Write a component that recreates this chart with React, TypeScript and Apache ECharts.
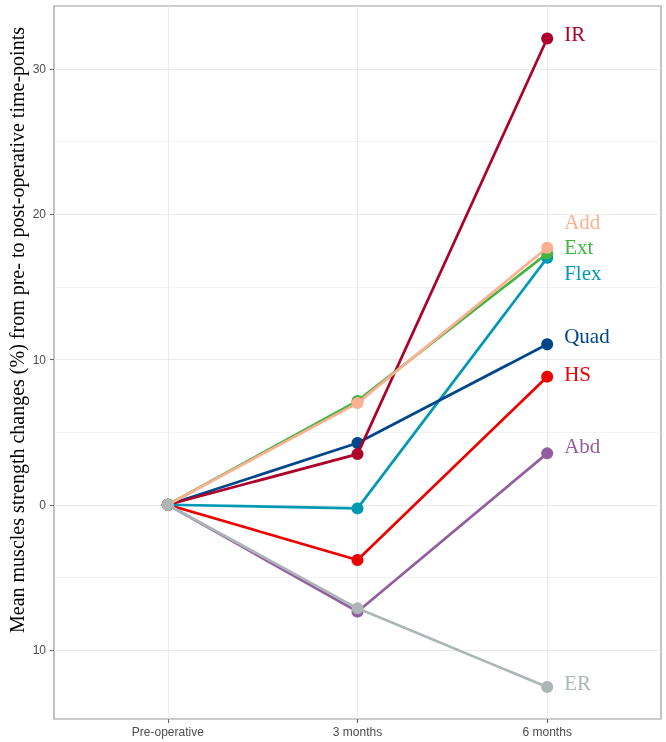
import React, { useEffect, useRef } from "react";
import * as echarts from "echarts";

const timePoints = ["Pre-operative", "3 months", "6 months"];

const IR = [0, 3.49, 32.1];
const Add = [0, 7.0, 17.7];
const Ext = [0, 7.15, 17.3];
const Flex = [0, -0.25, 17.0];
const Quad = [0, 4.25, 11.05];
const HS = [0, -3.8, 8.82];
const Abd = [0, -7.36, 3.54];
const ER = [0, -7.13, -12.55];

const yTicks = [-10, 0, 10, 20, 30];
const yMinor = [-5, 5, 15, 25];

// drawing order: later on top
const muscles = [
  { name: "Abd", values: Abd, color: "#925E9F", dy: -7 },
  { name: "HS", values: HS, color: "#ED0000", dy: -3 },
  { name: "Flex", values: Flex, color: "#0099B4", dy: 15 },
  { name: "Quad", values: Quad, color: "#00468B", dy: -8 },
  { name: "IR", values: IR, color: "#AD002A", dy: -5 },
  { name: "Ext", values: Ext, color: "#42B540", dy: -6 },
  { name: "Add", values: Add, color: "#FDAF91", dy: -26 },
  { name: "ER", values: ER, color: "#ADB6B6", dy: -4 },
];

export default function App() {
  const ref = useRef<HTMLDivElement>(null);
  useEffect(() => {
    if (!ref.current) return;
    const chart = echarts.init(ref.current, null, { renderer: "svg" });
    const gridColor = "#EBEBEB";
    const series: any[] = [
      {
        type: "line",
        data: [],
        silent: true,
        z: 0,
        markLine: {
          silent: true,
          z: 0,
          zlevel: 0,
          symbol: "none",
          animation: false,
          label: { show: false },
          emphasis: { disabled: true },
          data: [
            ...yMinor.map((v) => ({ yAxis: v, lineStyle: { color: gridColor, width: 0.6, type: "solid" } })),
            ...yTicks.map((v) => ({ yAxis: v, lineStyle: { color: gridColor, width: 1.2, type: "solid" } })),
            ...timePoints.map((_, i) => ({ xAxis: i, lineStyle: { color: gridColor, width: 1.2, type: "solid" } })),
          ],
        },
      },
    ];
    muscles.forEach((m, idx) => {
      series.push({
        name: m.name,
        type: "line",
        z: 10 + idx,
        data: m.values.map((v, i) => {
          const pt: any = { value: [i, v] };
          if (i === m.values.length - 1) {
            pt.label = {
              show: true,
              formatter: m.name,
              position: "right",
              distance: 11,
              offset: [0, m.dy],
              color: m.color,
              fontFamily: "Liberation Serif",
              fontSize: 21,
            };
          }
          return pt;
        }),
        symbol: "circle",
        symbolSize: 12,
        showSymbol: true,
        lineStyle: { color: m.color, width: 2.7 },
        itemStyle: { color: m.color, borderWidth: 0 },
        label: { show: false },
        emphasis: { disabled: true },
      });
    });
    chart.setOption({
      animation: false,
      grid: {
        left: 54,
        right: 5,
        top: 6,
        bottom: 23,
        show: true,
        borderColor: "#9A9A9A",
        borderWidth: 1.2,
        backgroundColor: "transparent",
      },
      xAxis: {
        type: "value",
        min: -0.6,
        max: 2.6,
        position: "bottom",
        splitLine: { show: false },
        axisLine: { show: false, onZero: false },
        axisTick: { show: true, customValues: [0, 1, 2], length: 4, lineStyle: { color: "#666", width: 1.1 } },
        axisLabel: {
          customValues: [0, 1, 2],
          formatter: (v: number) => timePoints[Math.round(v)] ?? "",
          color: "#4D4D4D",
          fontSize: 12,
          fontFamily: "Liberation Sans",
          margin: 7,
        },
      },
      yAxis: {
        type: "value",
        min: -14.75,
        max: 34.34,
        position: "left",
        splitLine: { show: false },
        axisLine: { show: false, onZero: false },
        axisTick: { show: true, customValues: yTicks, length: 4, lineStyle: { color: "#666", width: 1.1 } },
        axisLabel: {
          customValues: yTicks,
          formatter: (v: number) => String(Math.abs(v)),
          color: "#4D4D4D",
          fontSize: 12,
          fontFamily: "Liberation Sans",
          margin: 8,
        },
      },
      graphic: [
        {
          type: "text",
          x: 17,
          y: 330,
          rotation: Math.PI / 2,
          style: {
            text: "Mean muscles strength changes (%) from pre- to post-operative time-points",
            fontFamily: "Liberation Serif",
            fontSize: 20,
            fill: "#000",
            align: "center",
            verticalAlign: "middle",
          },
        },
      ],
      series,
    });
    return () => chart.dispose();
  }, []);
  return <div ref={ref} style={{ position: "fixed", left: 0, top: 0, width: 666, height: 742 }} />;
}
